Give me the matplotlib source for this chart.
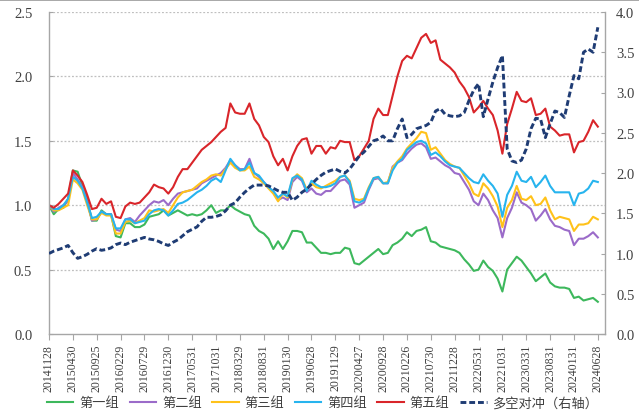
import matplotlib
matplotlib.use("Agg")
import matplotlib.pyplot as plt
from matplotlib.lines import Line2D
import numpy as np

OUTPUT_FILE = "out.png"

TICK_LABELS = [
    "20141128", "20150430", "20150925", "20160229", "20160729", "20161230",
    "20170531", "20171031", "20180329", "20180831", "20190130", "20190628",
    "20191129", "20200427", "20200928", "20210226", "20210730", "20211228",
    "20220531", "20221031", "20230331", "20230831", "20240131", "20240628",
]

GROUP1 = [
    1.00, 0.93, 0.97, 0.98, 1.05, 1.27, 1.26, 1.15, 1.05, 0.88,
    0.88, 0.96, 0.93, 0.93, 0.76, 0.75, 0.86, 0.86, 0.83, 0.83,
    0.85, 0.91, 0.92, 0.93, 0.96, 0.92, 0.94, 0.96, 0.94, 0.92,
    0.93, 0.92, 0.93, 0.96, 1.00, 0.94, 0.96, 0.96, 1.00, 0.97,
    0.95, 0.93, 0.92, 0.84, 0.80, 0.78, 0.74, 0.66, 0.72, 0.66,
    0.72, 0.80, 0.80, 0.79, 0.71, 0.71, 0.67, 0.63, 0.63, 0.62,
    0.63, 0.63, 0.67, 0.66, 0.55, 0.54, 0.57, 0.60, 0.63, 0.66,
    0.62, 0.63, 0.69, 0.71, 0.74, 0.79, 0.76, 0.80, 0.81, 0.83,
    0.72, 0.71, 0.68, 0.67, 0.66, 0.65, 0.63, 0.58, 0.54, 0.49,
    0.50, 0.57, 0.52, 0.49, 0.43, 0.33, 0.50, 0.55, 0.60, 0.57,
    0.52, 0.47, 0.41, 0.44, 0.47, 0.40, 0.37, 0.36, 0.36, 0.35,
    0.28, 0.29, 0.26, 0.27, 0.28, 0.25,
]

GROUP2 = [
    1.00, 0.95, 0.98, 1.00, 1.03, 1.25, 1.20, 1.14, 1.03, 0.88,
    0.89, 0.95, 0.93, 0.93, 0.81, 0.80, 0.89, 0.90, 0.87, 0.92,
    0.96, 1.00, 1.03, 1.02, 1.04, 1.00, 1.05, 1.09, 1.10, 1.11,
    1.12, 1.13, 1.17, 1.19, 1.21, 1.23, 1.25, 1.29, 1.35, 1.31,
    1.28, 1.28, 1.36, 1.25, 1.22, 1.18, 1.14, 1.10, 1.04, 1.06,
    1.04, 1.18, 1.22, 1.19, 1.10, 1.13, 1.09, 1.08, 1.11, 1.11,
    1.15, 1.19, 1.20, 1.16, 0.98, 1.00, 1.02, 1.12, 1.20, 1.21,
    1.17, 1.17, 1.30, 1.33, 1.35, 1.40, 1.44, 1.47, 1.48, 1.45,
    1.36, 1.37, 1.34, 1.31, 1.29, 1.25, 1.24, 1.18, 1.12, 1.03,
    1.00, 1.09, 1.04, 0.96, 0.90, 0.75, 0.90, 0.98, 1.10, 1.02,
    1.00, 0.97, 0.88, 0.92, 0.97, 0.89, 0.84, 0.83, 0.81, 0.80,
    0.69, 0.74, 0.74, 0.76, 0.79, 0.75,
]

GROUP3 = [
    1.00, 0.96, 0.96, 0.98, 1.00, 1.20, 1.17, 1.12, 1.00, 0.89,
    0.89, 0.94, 0.92, 0.92, 0.78, 0.78, 0.87, 0.88, 0.86, 0.88,
    0.90, 0.96, 0.95, 0.96, 0.97, 0.94, 1.00, 1.06, 1.10, 1.11,
    1.12, 1.15, 1.18, 1.20, 1.23, 1.24, 1.23, 1.28, 1.33, 1.29,
    1.27, 1.27, 1.30, 1.22, 1.20, 1.17, 1.13, 1.09, 1.03, 1.09,
    1.06, 1.20, 1.24, 1.21, 1.12, 1.17, 1.14, 1.13, 1.15, 1.17,
    1.19, 1.22, 1.23, 1.19, 1.05, 1.04, 1.05, 1.14, 1.21, 1.22,
    1.17, 1.18, 1.29, 1.34, 1.38, 1.44, 1.48, 1.52, 1.57, 1.56,
    1.43, 1.45, 1.40, 1.35, 1.32, 1.30, 1.29, 1.23, 1.17, 1.09,
    1.07, 1.17, 1.13, 1.07, 0.99, 0.83, 0.98, 1.04, 1.15, 1.05,
    1.04, 1.07, 1.00, 1.01, 1.06, 0.96, 0.89, 0.91, 0.90, 0.89,
    0.80, 0.85, 0.85, 0.86, 0.91, 0.89,
]

GROUP4 = [
    1.00, 0.97, 0.97, 1.00, 1.05, 1.22, 1.19, 1.13, 1.02, 0.90,
    0.91, 0.95, 0.93, 0.93, 0.82, 0.82, 0.89, 0.89, 0.86, 0.87,
    0.88, 0.93, 0.96, 0.97, 0.96, 0.92, 0.96, 1.01, 1.02, 1.04,
    1.07, 1.10, 1.12, 1.15, 1.19, 1.21, 1.18, 1.27, 1.36, 1.31,
    1.27, 1.28, 1.33, 1.25, 1.23, 1.18, 1.14, 1.11, 1.06, 1.09,
    1.07, 1.21, 1.23, 1.20, 1.11, 1.19, 1.16, 1.14, 1.14, 1.15,
    1.17, 1.22, 1.23, 1.18, 1.03, 1.02, 1.04, 1.13, 1.21, 1.22,
    1.17, 1.17, 1.27, 1.33, 1.36, 1.43, 1.46, 1.49, 1.50, 1.48,
    1.39, 1.41, 1.38, 1.34, 1.31, 1.30, 1.29, 1.25, 1.21, 1.18,
    1.17, 1.24, 1.19, 1.15, 1.09, 0.91, 1.08, 1.15, 1.26, 1.19,
    1.18, 1.22, 1.14, 1.18, 1.23, 1.15, 1.10, 1.10, 1.10, 1.10,
    1.00, 1.09, 1.10, 1.13, 1.19, 1.18,
]

GROUP5 = [
    1.00, 0.98, 1.01, 1.05, 1.09, 1.27, 1.23, 1.18, 1.08, 0.97,
    0.98, 1.05, 1.01, 1.03, 0.91, 0.90, 0.99, 1.02, 1.01, 1.02,
    1.06, 1.10, 1.16, 1.14, 1.13, 1.09, 1.14, 1.22, 1.28, 1.28,
    1.33, 1.38, 1.43, 1.46, 1.49, 1.53, 1.57, 1.60, 1.79, 1.72,
    1.71, 1.71, 1.79, 1.67, 1.62, 1.53, 1.49, 1.38, 1.31, 1.36,
    1.27, 1.38, 1.46, 1.51, 1.52, 1.40, 1.46, 1.46, 1.40, 1.45,
    1.44, 1.50, 1.49, 1.49, 1.35, 1.38, 1.44, 1.50, 1.67, 1.75,
    1.70, 1.70, 1.85, 2.00, 2.12, 2.16, 2.14, 2.22, 2.30, 2.33,
    2.26, 2.28, 2.13, 2.10, 2.07, 2.03, 1.96, 1.91, 1.84, 1.72,
    1.76, 1.81, 1.75, 1.70, 1.58, 1.40, 1.63, 1.75, 1.88, 1.81,
    1.80, 1.83, 1.70, 1.71, 1.75, 1.61, 1.58, 1.54, 1.55, 1.55,
    1.41, 1.49, 1.50, 1.57, 1.66, 1.61,
]

# long-short hedge, right axis
HEDGE = [
    1.00, 1.03, 1.05, 1.07, 1.10, 1.01, 0.94, 0.96, 0.99, 1.03,
    1.06, 1.04, 1.05, 1.07, 1.11, 1.13, 1.11, 1.14, 1.16, 1.18,
    1.20, 1.18, 1.17, 1.15, 1.12, 1.10, 1.14, 1.17, 1.22, 1.27,
    1.30, 1.33, 1.40, 1.45, 1.45, 1.46, 1.48, 1.53, 1.60, 1.63,
    1.70, 1.76, 1.81, 1.85, 1.85, 1.85, 1.84, 1.81, 1.78, 1.76,
    1.76, 1.66, 1.70, 1.76, 1.80, 1.86, 1.92, 1.97, 2.01, 2.03,
    2.05, 2.02, 2.00, 2.05, 2.13, 2.21, 2.26, 2.33, 2.40, 2.42,
    2.46, 2.40, 2.40, 2.55, 2.67, 2.44, 2.48, 2.55, 2.57, 2.59,
    2.63, 2.77, 2.80, 2.73, 2.71, 2.70, 2.71, 2.75, 2.90, 3.03,
    3.11, 2.70, 2.92, 3.13, 3.31, 3.46, 2.30, 2.15, 2.13, 2.16,
    2.30, 2.55, 2.68, 2.67, 2.44, 2.61, 2.77, 2.75, 2.69, 2.96,
    3.21, 3.17, 3.50, 3.54, 3.50, 3.81,
]

SERIES = [
    ("第一组", GROUP1, "#3DB85C"),
    ("第二组", GROUP2, "#9B6BC9"),
    ("第三组", GROUP3, "#FFC21A"),
    ("第四组", GROUP4, "#27B4EE"),
    ("第五组", GROUP5, "#D9252A"),
]
HEDGE_LABEL = "多空对冲（右轴）"
HEDGE_COLOR = "#1F3C74"

TEXT_COLOR = "#404040"
AXIS_COLOR = "#A6A6A6"
SERIF = ["Liberation Serif", "DejaVu Serif"]
CJK = ["Noto Sans CJK SC", "DejaVu Sans"]


def main():
    fig = plt.figure(figsize=(6.39, 4.14), dpi=100)
    ax = fig.add_axes([49 / 639, 1 - 335 / 414, 556 / 639, 322 / 414])
    ax2 = ax.twinx()

    x = np.arange(len(GROUP1))
    handles = []
    for label, vals, color in SERIES:
        h, = ax.plot(x, vals, color=color, linewidth=1.5, label=label)
        handles.append(h)
    h, = ax2.plot(x, HEDGE, color=HEDGE_COLOR, linewidth=2.1,
                  linestyle=(0, (2.0, 1.0)), label=HEDGE_LABEL)
    handles.append(h)

    ax.set_xlim(0, 116.5)
    ax.set_ylim(0, 2.5)
    ax2.set_ylim(0, 4.0)

    ax.set_yticks(np.arange(0, 2.51, 0.5))
    ax.set_yticklabels([f"{v:.1f}" for v in np.arange(0, 2.51, 0.5)])
    ax2.set_yticks(np.arange(0, 4.01, 0.5))
    ax2.set_yticklabels([f"{v:.1f}" for v in np.arange(0, 4.01, 0.5)])

    tick_pos = np.arange(0, len(GROUP1), 5)
    ax.set_xticks(tick_pos)
    ax.set_xticklabels(TICK_LABELS, rotation=90)

    for yv in np.arange(0.5, 2.51, 0.5):
        ax.axhline(yv, color="#BFBFBF", linewidth=0.9, linestyle=(0, (1.5, 1.5)),
                   zorder=0)

    for a in (ax, ax2):
        a.spines["top"].set_visible(False)
        for side in ("left", "right", "bottom"):
            a.spines[side].set_color(AXIS_COLOR)
            a.spines[side].set_linewidth(1.0)
    ax2.spines["left"].set_visible(False)
    ax2.spines["bottom"].set_visible(False)
    ax.spines["right"].set_visible(False)

    ax.tick_params(axis="y", direction="in", length=3, color=AXIS_COLOR,
                   pad=12, labelsize=10.5, labelcolor=TEXT_COLOR)
    ax2.tick_params(axis="y", direction="in", length=3, color=AXIS_COLOR,
                    pad=8, labelsize=10.5, labelcolor=TEXT_COLOR)
    ax.tick_params(axis="x", direction="out", length=4, color=AXIS_COLOR,
                   pad=3, labelsize=8.5, labelcolor=TEXT_COLOR)
    for t in ax.get_yticklabels() + ax2.get_yticklabels() + ax.get_xticklabels():
        t.set_family(SERIF)

    fig.legend(handles=handles, loc="center", bbox_to_anchor=(0.505, 0.025),
               ncol=6, frameon=False, handlelength=2.0, handletextpad=0.45,
               columnspacing=0.8, prop={"family": CJK, "size": 9.5},
               labelcolor=TEXT_COLOR)

    fig.add_artist(Line2D([0, 1], [0.998, 0.998], color="#9A9A9A",
                          linewidth=1.2, transform=fig.transFigure))

    fig.savefig(OUTPUT_FILE, dpi=100)
    plt.close(fig)


if __name__ == "__main__":
    main()
